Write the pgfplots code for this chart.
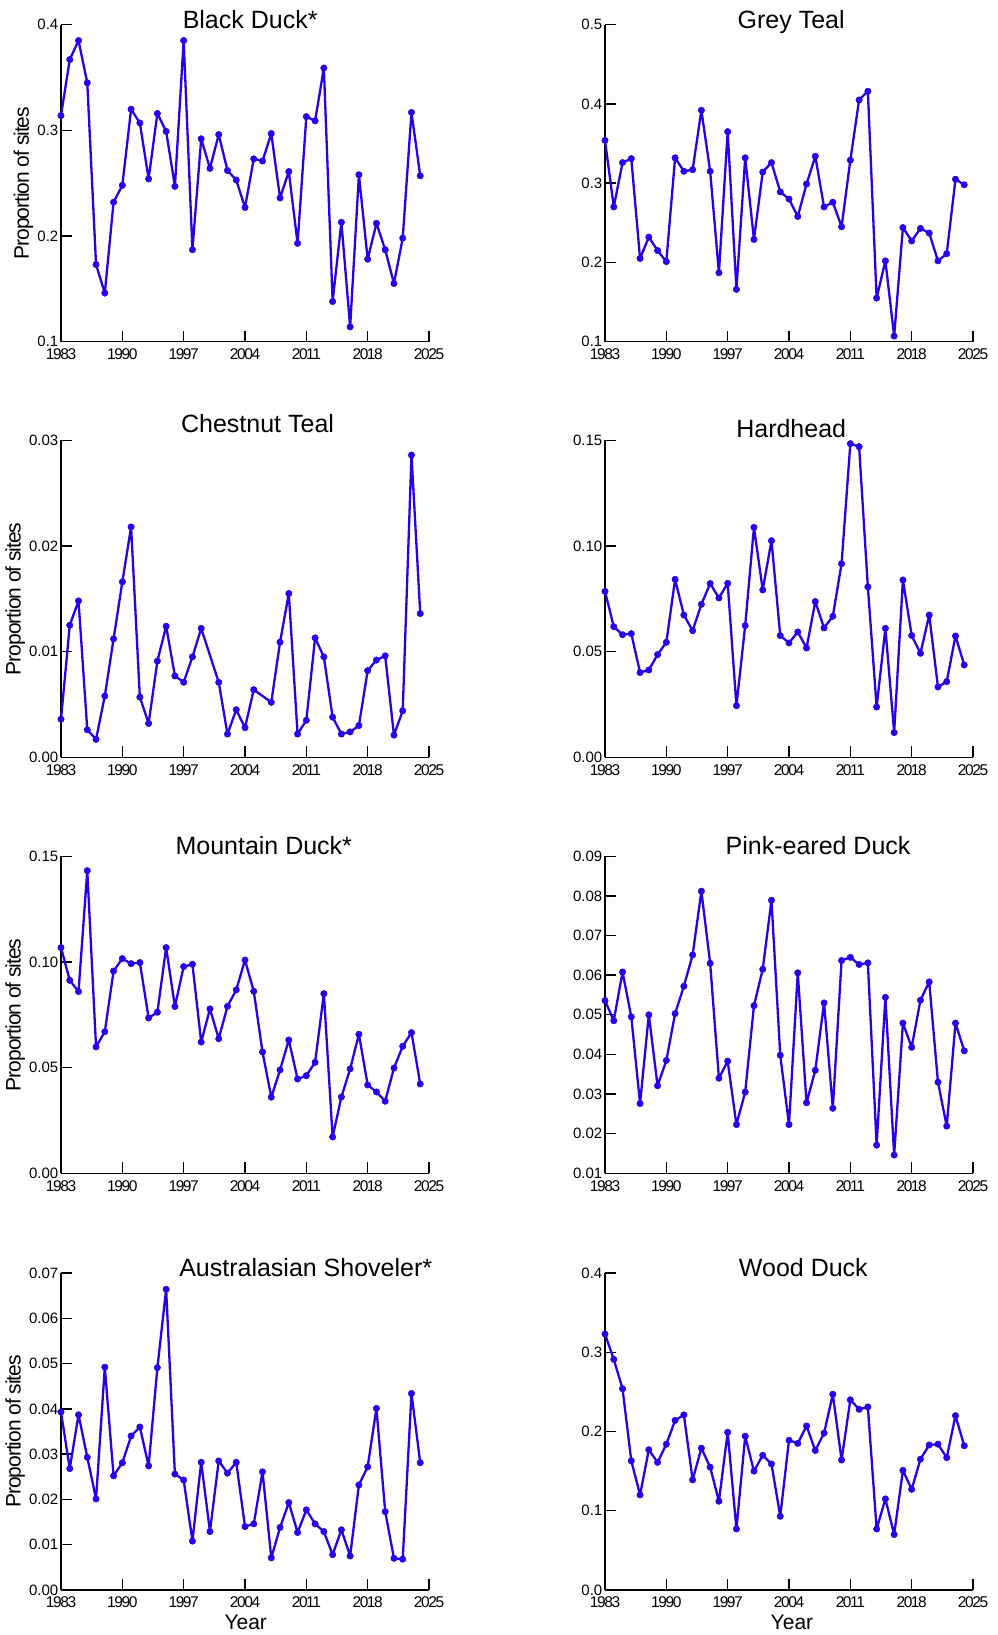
\documentclass[border=0pt]{standalone}
\usepackage{fontspec}
\setmainfont{Liberation Sans}
\newfontfamily\tickfont[LetterSpace=-9]{Liberation Sans}
\newfontfamily\labelfont[LetterSpace=-5]{Liberation Sans}
\usepackage{pgfplots}
\pgfplotsset{compat=1.18}
\definecolor{duckblue}{RGB}{40,0,235}

\pgfplotsset{
  every axis title shift=0pt,
  duckpanel/.style={
    scale only axis, width=368pt, height=317pt,
    xmin=1983, xmax=2025,
    xtick={1983,1990,1997,2004,2011,2018,2025},
    xticklabels={1983,1990,1997,2004,2011,2018,2025},
    scaled y ticks=false, scaled x ticks=false,
    axis x line*=bottom, axis y line*=left,
    axis line style={-, line width=1.4pt, black},
    tick align=inside, major tick length=11pt,
    tick style={line width=1.4pt, black},
    xticklabel style={font=\tickfont\fontsize{15.5}{15.5}\selectfont, yshift=-3.5pt},
    yticklabel style={font=\fontsize{15}{15}\selectfont, inner sep=2.5pt},
    title style={font=\fontsize{25}{25}\selectfont, anchor=base, yshift=0pt},
    ylabel style={font=\labelfont\fontsize{21}{21}\selectfont, inner sep=1.5pt},
    xlabel style={font=\fontsize{21}{21}\selectfont, anchor=center},
    clip=false,
  },
  duckline/.style={duckblue, line width=2.3pt, line join=round, mark=*, mark size=3.2pt,
    mark options={fill=duckblue, draw=duckblue, line width=0.5pt}},
}

\begin{document}
\begin{tikzpicture}
\path[use as bounding box] (0pt,0pt) rectangle (998pt,1635pt);

% ---------------- Row 1 ----------------
\begin{axis}[duckpanel, at={(61pt,1293.3pt)}, anchor=south west,
  ymin=0.1, ymax=0.4, ytick={0.1,0.2,0.3,0.4}, yticklabels={0.1,0.2,0.3,0.4},
  title={Black Duck*}, title style={at={(0.514,0.989)}},
  ylabel={Proportion of sites}]
\addplot[duckline] coordinates {
(1983,0.314)(1984,0.367)(1985,0.385)(1986,0.345)(1987,0.173)(1988,0.146)
(1989,0.232)(1990,0.248)(1991,0.320)(1992,0.307)(1993,0.254)(1994,0.316)
(1995,0.299)(1996,0.247)(1997,0.385)(1998,0.187)(1999,0.292)(2000,0.264)
(2001,0.296)(2002,0.262)(2003,0.253)(2004,0.227)(2005,0.273)(2006,0.271)
(2007,0.297)(2008,0.236)(2009,0.261)(2010,0.193)(2011,0.313)(2012,0.309)
(2013,0.359)(2014,0.138)(2015,0.213)(2016,0.114)(2017,0.258)(2018,0.178)
(2019,0.212)(2020,0.187)(2021,0.155)(2022,0.198)(2023,0.317)(2024,0.257)};
\end{axis}

\begin{axis}[duckpanel, at={(605pt,1293.3pt)}, anchor=south west,
  ymin=0.1, ymax=0.5, ytick={0.1,0.2,0.3,0.4,0.5}, yticklabels={0.1,0.2,0.3,0.4,0.5},
  title={Grey Teal}, title style={at={(0.506,0.988)}}]
\addplot[duckline] coordinates {
(1983,0.354)(1984,0.270)(1985,0.326)(1986,0.331)(1987,0.205)(1988,0.232)
(1989,0.215)(1990,0.201)(1991,0.332)(1992,0.315)(1993,0.317)(1994,0.392)
(1995,0.315)(1996,0.187)(1997,0.365)(1998,0.166)(1999,0.332)(2000,0.229)
(2001,0.314)(2002,0.326)(2003,0.289)(2004,0.280)(2005,0.258)(2006,0.299)
(2007,0.334)(2008,0.270)(2009,0.276)(2010,0.245)(2011,0.329)(2012,0.405)
(2013,0.416)(2014,0.155)(2015,0.202)(2016,0.107)(2017,0.244)(2018,0.227)
(2019,0.243)(2020,0.237)(2021,0.202)(2022,0.211)(2023,0.305)(2024,0.298)};
\end{axis}

% ---------------- Row 2 ----------------
\begin{axis}[duckpanel, at={(61pt,877.7pt)}, anchor=south west,
  ymin=0, ymax=0.03, ytick={0,0.01,0.02,0.03}, yticklabels={0.00,0.01,0.02,0.03},
  title={Chestnut Teal}, title style={at={(0.534,1.025)}},
  ylabel={Proportion of sites}]
\addplot[duckline] coordinates {
(1983,0.0036)(1984,0.0125)(1985,0.0148)(1986,0.0026)(1987,0.0017)(1988,0.0058)
(1989,0.0112)(1990,0.0166)(1991,0.0218)(1992,0.0057)(1993,0.0032)(1994,0.0091)
(1995,0.0124)(1996,0.0077)(1997,0.0071)(1998,0.0095)(1999,0.0122)
(2001,0.0071)(2002,0.0022)(2003,0.0045)(2004,0.0028)(2005,0.0064)
(2007,0.0052)(2008,0.0109)(2009,0.0155)(2010,0.0022)(2011,0.0035)(2012,0.0113)
(2013,0.0095)(2014,0.0038)(2015,0.0022)(2016,0.0024)(2017,0.0030)(2018,0.0082)
(2019,0.0092)(2020,0.0096)(2021,0.0021)(2022,0.0044)(2023,0.0286)(2024,0.0136)};
\end{axis}

\begin{axis}[duckpanel, at={(605pt,877.7pt)}, anchor=south west,
  ymin=0, ymax=0.15, ytick={0,0.05,0.10,0.15}, yticklabels={0.00,0.05,0.10,0.15},
  title={Hardhead}, title style={at={(0.506,1.008)}}]
\addplot[duckline] coordinates {
(1983,0.0785)(1984,0.0618)(1985,0.0580)(1986,0.0585)(1987,0.0401)(1988,0.0413)
(1989,0.0486)(1990,0.0544)(1991,0.0842)(1992,0.0673)(1993,0.0599)(1994,0.0724)
(1995,0.0822)(1996,0.0754)(1997,0.0823)(1998,0.0244)(1999,0.0623)(2000,0.1088)
(2001,0.0792)(2002,0.1025)(2003,0.0576)(2004,0.0541)(2005,0.0593)(2006,0.0517)
(2007,0.0737)(2008,0.0612)(2009,0.0667)(2010,0.0916)(2011,0.1484)(2012,0.1470)
(2013,0.0806)(2014,0.0238)(2015,0.0610)(2016,0.0117)(2017,0.0839)(2018,0.0576)
(2019,0.0492)(2020,0.0673)(2021,0.0333)(2022,0.0358)(2023,0.0574)(2024,0.0437)};
\end{axis}

% ---------------- Row 3 ----------------
\begin{axis}[duckpanel, at={(61pt,461.7pt)}, anchor=south west,
  ymin=0, ymax=0.15, ytick={0,0.05,0.10,0.15}, yticklabels={0.00,0.05,0.10,0.15},
  title={Mountain Duck*}, title style={at={(0.551,1.007)}},
  ylabel={Proportion of sites}]
\addplot[duckline] coordinates {
(1983,0.1068)(1984,0.0913)(1985,0.0860)(1986,0.1432)(1987,0.0598)(1988,0.0670)
(1989,0.0957)(1990,0.1016)(1991,0.0992)(1992,0.0997)(1993,0.0735)(1994,0.0762)
(1995,0.1068)(1996,0.0789)(1997,0.0978)(1998,0.0989)(1999,0.0621)(2000,0.0778)
(2001,0.0637)(2002,0.0790)(2003,0.0868)(2004,0.1009)(2005,0.0861)(2006,0.0574)
(2007,0.0360)(2008,0.0489)(2009,0.0631)(2010,0.0446)(2011,0.0462)(2012,0.0525)
(2013,0.0850)(2014,0.0172)(2015,0.0361)(2016,0.0494)(2017,0.0658)(2018,0.0418)
(2019,0.0385)(2020,0.0341)(2021,0.0498)(2022,0.0601)(2023,0.0666)(2024,0.0423)};
\end{axis}

\begin{axis}[duckpanel, at={(605pt,461.7pt)}, anchor=south west,
  ymin=0.01, ymax=0.09, ytick={0.01,0.02,0.03,0.04,0.05,0.06,0.07,0.08,0.09},
  yticklabels={0.01,0.02,0.03,0.04,0.05,0.06,0.07,0.08,0.09},
  title={Pink-eared Duck}, title style={at={(0.579,1.007)}}]
\addplot[duckline] coordinates {
(1983,0.0536)(1984,0.0485)(1985,0.0608)(1986,0.0495)(1987,0.0276)(1988,0.0500)
(1989,0.0321)(1990,0.0385)(1991,0.0503)(1992,0.0572)(1993,0.0651)(1994,0.0812)
(1995,0.0630)(1996,0.0340)(1997,0.0383)(1998,0.0223)(1999,0.0305)(2000,0.0523)
(2001,0.0615)(2002,0.0789)(2003,0.0398)(2004,0.0223)(2005,0.0606)(2006,0.0278)
(2007,0.0360)(2008,0.0530)(2009,0.0264)(2010,0.0637)(2011,0.0645)(2012,0.0627)
(2013,0.0631)(2014,0.0171)(2015,0.0544)(2016,0.0146)(2017,0.0479)(2018,0.0418)
(2019,0.0537)(2020,0.0583)(2021,0.0330)(2022,0.0219)(2023,0.0479)(2024,0.0409)};
\end{axis}

% ---------------- Row 4 ----------------
\begin{axis}[duckpanel, at={(61pt,45pt)}, anchor=south west,
  ymin=0, ymax=0.07, ytick={0,0.01,0.02,0.03,0.04,0.05,0.06,0.07},
  yticklabels={0.00,0.01,0.02,0.03,0.04,0.05,0.06,0.07},
  title={Australasian Shoveler*}, title style={at={(0.665,0.990)}},
  ylabel={Proportion of sites},
  xlabel={Year}, xlabel style={at={(axis description cs:0.502,-0.101)}}]
\addplot[duckline] coordinates {
(1983,0.0393)(1984,0.0268)(1985,0.0387)(1986,0.0293)(1987,0.0201)(1988,0.0492)
(1989,0.0252)(1990,0.0281)(1991,0.0340)(1992,0.0360)(1993,0.0274)(1994,0.0491)
(1995,0.0664)(1996,0.0256)(1997,0.0243)(1998,0.0108)(1999,0.0282)(2000,0.0129)
(2001,0.0285)(2002,0.0258)(2003,0.0282)(2004,0.0140)(2005,0.0146)(2006,0.0261)
(2007,0.0071)(2008,0.0138)(2009,0.0193)(2010,0.0127)(2011,0.0177)(2012,0.0146)
(2013,0.0129)(2014,0.0078)(2015,0.0133)(2016,0.0075)(2017,0.0232)(2018,0.0272)
(2019,0.0401)(2020,0.0173)(2021,0.0070)(2022,0.0068)(2023,0.0434)(2024,0.0281)};
\end{axis}

\begin{axis}[duckpanel, at={(605pt,45pt)}, anchor=south west,
  ymin=0, ymax=0.4, ytick={0,0.1,0.2,0.3,0.4}, yticklabels={0.0,0.1,0.2,0.3,0.4},
  title={Wood Duck}, title style={at={(0.539,0.990)}},
  xlabel={Year}, xlabel style={at={(axis description cs:0.508,-0.103)}}]
\addplot[duckline] coordinates {
(1983,0.323)(1984,0.291)(1985,0.254)(1986,0.163)(1987,0.120)(1988,0.177)
(1989,0.161)(1990,0.184)(1991,0.214)(1992,0.221)(1993,0.139)(1994,0.179)
(1995,0.155)(1996,0.112)(1997,0.199)(1998,0.077)(1999,0.194)(2000,0.150)
(2001,0.170)(2002,0.159)(2003,0.093)(2004,0.189)(2005,0.185)(2006,0.207)
(2007,0.176)(2008,0.198)(2009,0.247)(2010,0.164)(2011,0.240)(2012,0.228)
(2013,0.231)(2014,0.077)(2015,0.115)(2016,0.070)(2017,0.151)(2018,0.127)
(2019,0.165)(2020,0.183)(2021,0.184)(2022,0.167)(2023,0.220)(2024,0.182)};
\end{axis}
\end{tikzpicture}
\end{document}
